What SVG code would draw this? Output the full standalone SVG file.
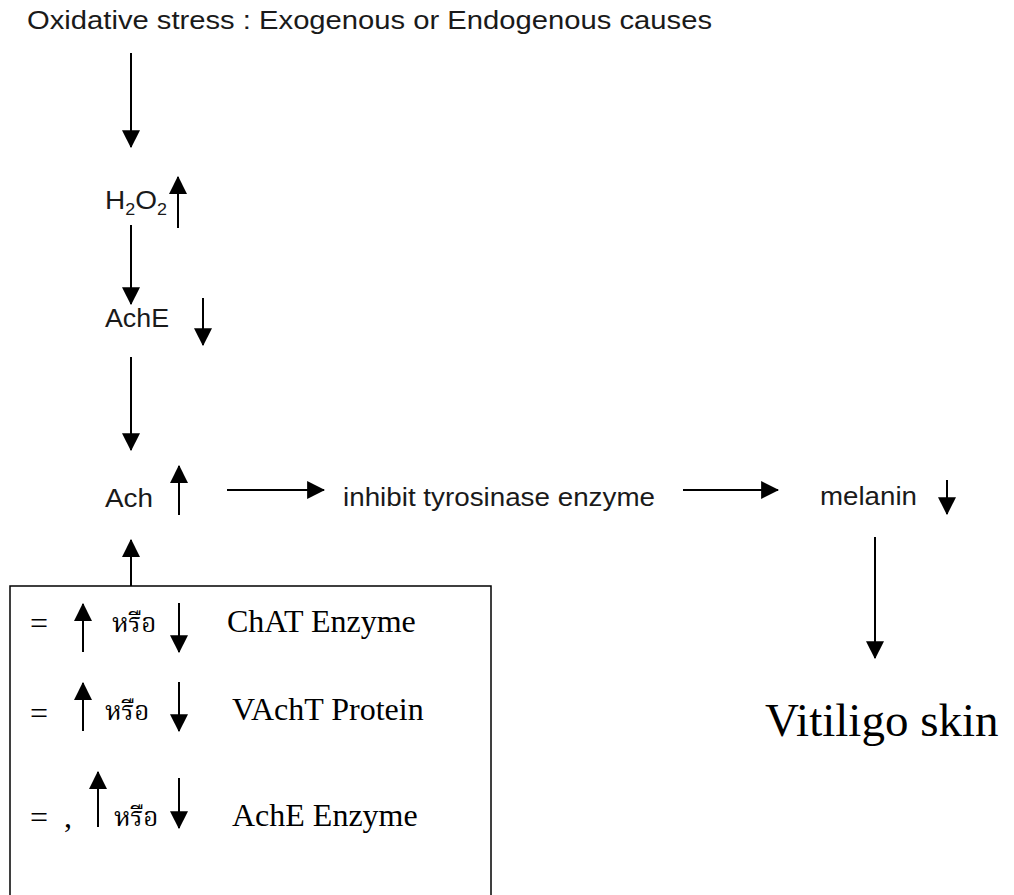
<svg xmlns="http://www.w3.org/2000/svg" width="1014" height="895" viewBox="0 0 1014 895">
<style>
.s{font-family:"Liberation Sans","Noto Sans",sans-serif;font-size:25px;fill:#1a1a1a}
.r{font-family:"Liberation Serif","Noto Serif Thai","Noto Sans Thai","Noto Sans",serif;font-size:32px;fill:#000}
.big{font-size:47px}
.th{font-family:"Noto Serif Thai","Noto Sans Thai","Liberation Serif","Noto Sans",serif;font-size:26px;fill:#000}
.sub{font-size:16px}
.l{stroke:#000;stroke-width:2;fill:none}
</style>
<defs>
<marker id="ah" markerUnits="userSpaceOnUse" markerWidth="18" markerHeight="18" viewBox="0 0 16 16" refX="15" refY="8" orient="auto">
<path d="M0,0 L16,8 L0,16 Z" fill="#000"/>
</marker>
</defs>
<rect width="1014" height="895" fill="#fff"/>
<g id="title"><text class="s" x="27" y="29" textLength="685" lengthAdjust="spacingAndGlyphs">Oxidative stress  : Exogenous or Endogenous causes</text></g>
<g id="h2o2"><text class="s" x="105" y="209" textLength="62" lengthAdjust="spacingAndGlyphs">H<tspan class="sub" dy="6">2</tspan><tspan dy="-6">O</tspan><tspan class="sub" dy="6">2</tspan></text></g>
<g id="ache"><text class="s" x="105" y="327" textLength="64" lengthAdjust="spacingAndGlyphs">AchE</text></g>
<g id="ach"><text class="s" x="105" y="507" textLength="48" lengthAdjust="spacingAndGlyphs">Ach</text></g>
<g id="inhibit"><text class="s" x="343" y="506" textLength="312" lengthAdjust="spacingAndGlyphs">inhibit tyrosinase enzyme</text></g>
<g id="melanin"><text class="s" x="820" y="505" textLength="97" lengthAdjust="spacingAndGlyphs">melanin</text></g>
<g id="vitiligo"><text class="r big" x="765" y="736">Vitiligo skin</text></g>
<g id="box">
<rect x="10" y="586" width="481" height="320" fill="none" stroke="#000" stroke-width="1.5"/>
<text class="r" x="30" y="634">=</text>
<text class="th" x="112" y="632">หรือ</text>
<text class="r" x="227" y="632">ChAT Enzyme</text>
<text class="r" x="30" y="724">=</text>
<text class="th" x="105" y="720">หรือ</text>
<text class="r" x="232" y="720">VAchT Protein</text>
<text class="r" x="30" y="828">=</text>
<text class="r" x="64" y="827">,</text>
<text class="th" x="114" y="826">หรือ</text>
<text class="r" x="232" y="826">AchE Enzyme</text>
</g>
<g id="connectors" class="l">
<line x1="131" y1="53" x2="131" y2="147" marker-end="url(#ah)"/>
<line x1="131" y1="225" x2="131" y2="304" marker-end="url(#ah)"/>
<line x1="131" y1="357" x2="131" y2="450" marker-end="url(#ah)"/>
<line x1="131" y1="586" x2="131" y2="540" marker-end="url(#ah)"/>
<line x1="227" y1="490" x2="324" y2="490" marker-end="url(#ah)"/>
<line x1="683" y1="490" x2="778" y2="490" marker-end="url(#ah)"/>
<line x1="875" y1="537" x2="875" y2="658" marker-end="url(#ah)"/>
<line x1="178" y1="228" x2="178" y2="177" marker-end="url(#ah)"/>
<line x1="203" y1="298" x2="203" y2="345" marker-end="url(#ah)"/>
<line x1="179" y1="515" x2="179" y2="466" marker-end="url(#ah)"/>
<line x1="947" y1="480" x2="947" y2="514" marker-end="url(#ah)"/>
<line x1="83" y1="652" x2="83" y2="604" marker-end="url(#ah)"/>
<line x1="179" y1="603" x2="179" y2="652" marker-end="url(#ah)"/>
<line x1="83" y1="731" x2="83" y2="683" marker-end="url(#ah)"/>
<line x1="179" y1="682" x2="179" y2="731" marker-end="url(#ah)"/>
<line x1="98" y1="827" x2="98" y2="772" marker-end="url(#ah)"/>
<line x1="179" y1="778" x2="179" y2="828" marker-end="url(#ah)"/>
</g>
</svg>
